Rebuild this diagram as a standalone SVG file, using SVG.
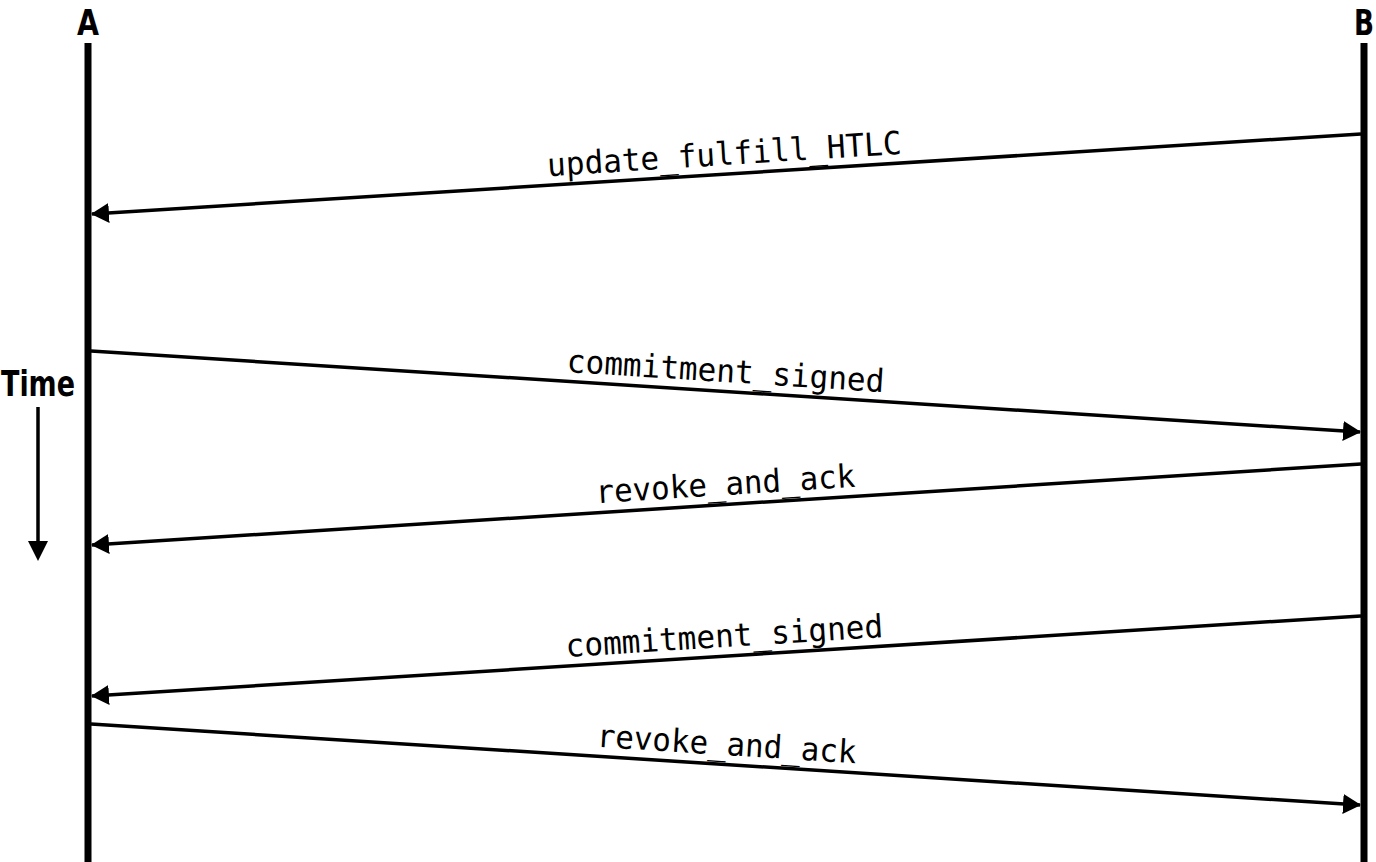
<svg xmlns="http://www.w3.org/2000/svg" width="1376" height="862" viewBox="0 0 1376 862">
<style>
.life{stroke:#000;stroke-width:7;fill:none}
.msg{stroke:#000;stroke-width:3.5;fill:none}
.hdr{font-family:"DejaVu Sans Condensed","DejaVu Sans",sans-serif;font-weight:bold;font-size:36px;fill:#000;text-anchor:middle}
.lbl{font-family:"DejaVu Sans Mono","Liberation Mono",monospace;font-size:32px;fill:#000;text-anchor:middle}
</style>
<defs>
<marker id="ah" markerUnits="userSpaceOnUse" viewBox="0 0 18 20" refX="17" refY="10" markerWidth="18" markerHeight="20" orient="auto">
<path d="M0,0 L18,10 L0,20 Z" fill="#000"/>
</marker>
</defs>
<rect width="1376" height="862" fill="#fff"/>
<g id="A">
<text class="hdr" x="88" y="35" textLength="22" lengthAdjust="spacingAndGlyphs">A</text>
<line class="life" x1="88" y1="43" x2="88" y2="862"/>
</g>
<g id="B">
<text class="hdr" x="1364" y="35" textLength="20" lengthAdjust="spacingAndGlyphs">B</text>
<line class="life" x1="1364" y1="43" x2="1364" y2="862"/>
</g>
<g id="time">
<text class="hdr" x="38" y="396" textLength="74" lengthAdjust="spacingAndGlyphs">Time</text>
<line class="msg" x1="38" y1="407" x2="38" y2="545"/>
<path d="M28,541 L48,541 L38,561 Z" fill="#000"/>
</g>
<g id="connectors">
<line class="msg" x1="1361" y1="134" x2="92" y2="214" marker-end="url(#ah)"/>
<line class="msg" x1="91" y1="351" x2="1360" y2="432" marker-end="url(#ah)"/>
<line class="msg" x1="1361" y1="464" x2="92" y2="545" marker-end="url(#ah)"/>
<line class="msg" x1="1361" y1="616" x2="92" y2="696" marker-end="url(#ah)"/>
<line class="msg" x1="91" y1="724" x2="1360" y2="805" marker-end="url(#ah)"/>
<text class="lbl" transform="translate(725,165) rotate(-3.6)" textLength="355" lengthAdjust="spacingAndGlyphs">update_fulfill_HTLC</text>
<text class="lbl" transform="translate(725,382) rotate(3.65)" textLength="318" lengthAdjust="spacingAndGlyphs">commitment_signed</text>
<text class="lbl" transform="translate(726,495) rotate(-3.65)" textLength="260" lengthAdjust="spacingAndGlyphs">revoke_and_ack</text>
<text class="lbl" transform="translate(725,647) rotate(-3.6)" textLength="318" lengthAdjust="spacingAndGlyphs">commitment_signed</text>
<text class="lbl" transform="translate(726,755) rotate(3.65)" textLength="260" lengthAdjust="spacingAndGlyphs">revoke_and_ack</text>
</g>
</svg>
